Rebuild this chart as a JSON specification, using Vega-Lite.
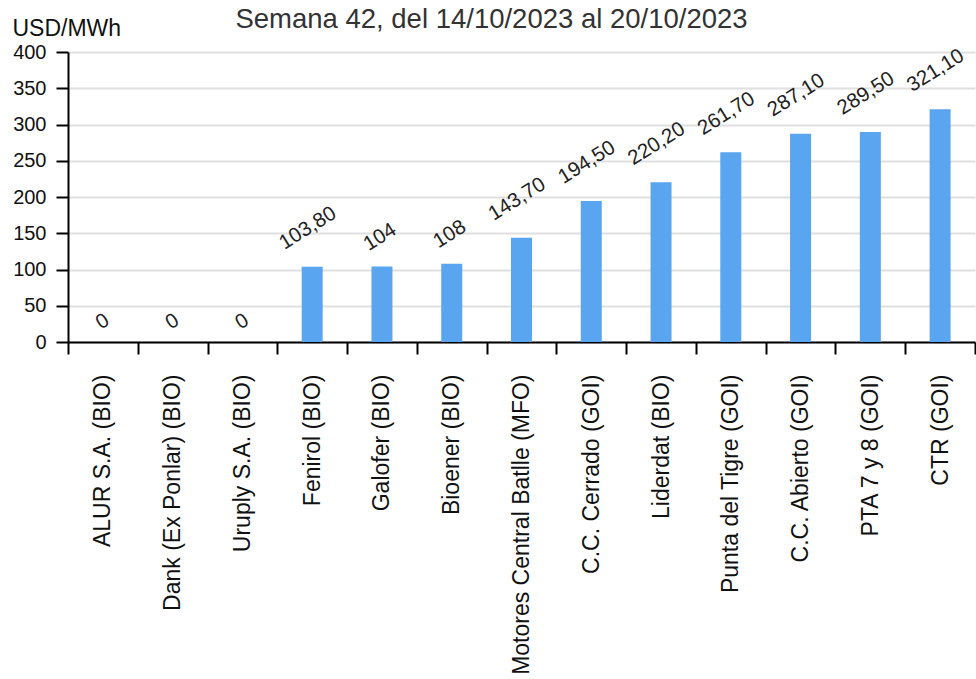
{
  "$schema": "https://vega.github.io/schema/vega-lite/v6.json",
  "width": 907,
  "height": 290,
  "autosize": {"type": "none"},
  "padding": {"left": 68, "top": 52, "right": 1, "bottom": 337},
  "background": "white",
  "title": {
    "text": "Semana 42, del 14/10/2023 al 20/10/2023",
    "font": "Liberation Sans",
    "fontSize": 27.5,
    "fontWeight": "normal",
    "color": "#333333",
    "anchor": "middle",
    "frame": "group",
    "dx": -30,
    "baseline": "alphabetic",
    "offset": -38
  },
  "data": {
    "values": [
      {"planta": "ALUR S.A. (BIO)", "precio": 0, "etiqueta": "0"},
      {"planta": "Dank (Ex Ponlar) (BIO)", "precio": 0, "etiqueta": "0"},
      {"planta": "Uruply S.A. (BIO)", "precio": 0, "etiqueta": "0"},
      {"planta": "Fenirol (BIO)", "precio": 103.8, "etiqueta": "103,80"},
      {"planta": "Galofer (BIO)", "precio": 104, "etiqueta": "104"},
      {"planta": "Bioener (BIO)", "precio": 108, "etiqueta": "108"},
      {"planta": "Motores Central Batlle (MFO)", "precio": 143.7, "etiqueta": "143,70"},
      {"planta": "C.C. Cerrado (GOI)", "precio": 194.5, "etiqueta": "194,50"},
      {"planta": "Liderdat (BIO)", "precio": 220.2, "etiqueta": "220,20"},
      {"planta": "Punta del Tigre (GOI)", "precio": 261.7, "etiqueta": "261,70"},
      {"planta": "C.C. Abierto (GOI)", "precio": 287.1, "etiqueta": "287,10"},
      {"planta": "PTA 7 y 8 (GOI)", "precio": 289.5, "etiqueta": "289,50"},
      {"planta": "CTR (GOI)", "precio": 321.1, "etiqueta": "321,10"}
    ]
  },
  "encoding": {
    "x": {
      "field": "planta",
      "type": "nominal",
      "sort": null,
      "scale": {"paddingInner": 0, "paddingOuter": 0},
      "axis": {
        "title": null,
        "labelAngle": -90,
        "labelFont": "Liberation Sans",
        "labelFontSize": 23,
        "labelColor": "#111111",
        "labelPadding": 20,
        "labelLimit": 400,
        "domainColor": "#000000",
        "domainWidth": 2,
        "tickColor": "#000000",
        "tickWidth": 2,
        "tickSize": 12,
        "tickBand": "extent",
        "grid": false
      }
    },
    "y": {
      "field": "precio",
      "type": "quantitative",
      "scale": {"domain": [0, 400], "nice": false},
      "axis": {
        "title": "USD/MWh",
        "titleAngle": 0,
        "titleAlign": "left",
        "titleBaseline": "alphabetic",
        "titleX": -56,
        "titleY": -17,
        "titleFont": "Liberation Sans",
        "titleFontSize": 23,
        "titleFontWeight": "normal",
        "titleColor": "#111111",
        "values": [0, 50, 100, 150, 200, 250, 300, 350, 400],
        "labelFont": "Liberation Sans",
        "labelFontSize": 20,
        "labelColor": "#111111",
        "labelPadding": 10,
        "domainColor": "#000000",
        "domainWidth": 2,
        "tickColor": "#000000",
        "tickWidth": 2,
        "tickSize": 12,
        "gridColor": "#e0e0e0",
        "gridWidth": 2
      }
    }
  },
  "layer": [
    {"mark": {"type": "bar", "size": 21, "color": "#5aa5f0"}},
    {
      "transform": [{"filter": "datum.precio == 0"}],
      "mark": {"type": "text", "angle": -32, "align": "center", "baseline": "middle", "dx": 10.6, "dy": -17.5, "font": "Liberation Sans", "fontSize": 20.5, "color": "#222222"},
      "encoding": {"text": {"field": "etiqueta"}}
    },
    {
      "transform": [{"filter": "datum.precio > 0 && length(datum.etiqueta) <= 3"}],
      "mark": {"type": "text", "angle": -32, "align": "center", "baseline": "middle", "dx": 13.9, "dy": -26, "font": "Liberation Sans", "fontSize": 20.5, "color": "#222222"},
      "encoding": {"text": {"field": "etiqueta"}}
    },
    {
      "transform": [{"filter": "length(datum.etiqueta) > 3"}],
      "mark": {"type": "text", "angle": -32, "align": "center", "baseline": "middle", "dx": 16.7, "dy": -35, "font": "Liberation Sans", "fontSize": 20.5, "color": "#222222"},
      "encoding": {"text": {"field": "etiqueta"}}
    }
  ],
  "config": {
    "view": {"stroke": null},
    "axis": {"labelFontWeight": "normal"}
  }
}
